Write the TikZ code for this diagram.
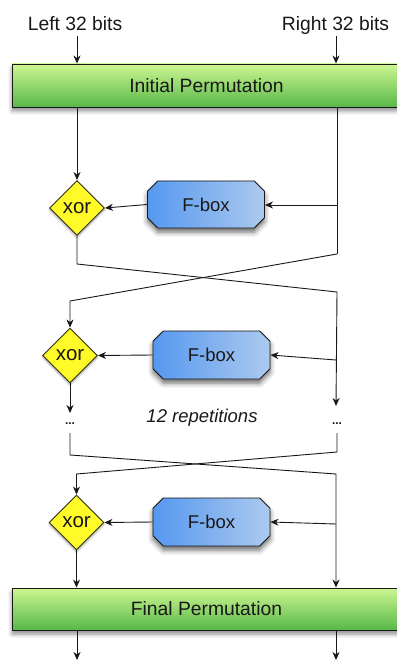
\documentclass[tikz,border=0pt]{standalone}
\usepackage{fontspec}
\setmainfont{Liberation Sans}
\usetikzlibrary{shapes.geometric,shapes.misc,shadows.blur,arrows.meta}

\definecolor{permtop}{RGB}{205,246,145}
\definecolor{permbot}{RGB}{88,184,74}
\definecolor{fleft}{RGB}{86,152,240}
\definecolor{fright}{RGB}{172,202,238}
\definecolor{xorfill}{RGB}{255,250,40}
\definecolor{ink}{RGB}{25,25,25}

\tikzset{
  txt/.style={font=\fontsize{19.3}{23}\selectfont, text=ink, inner sep=0pt},
  perm/.style={txt, draw=ink, line width=0.9pt, rectangle,
    top color=permtop, bottom color=permbot,
    minimum width=389pt, minimum height=43pt,
    blur shadow={shadow xshift=0pt, shadow yshift=-4pt, shadow blur radius=4pt, shadow opacity=45}},
  fbox/.style={txt, font=\fontsize{18.5}{22}\selectfont, draw=ink, line width=0.9pt, chamfered rectangle,
    chamfered rectangle xsep=7pt,
    left color=fleft, right color=fright,
    minimum width=117pt, minimum height=47pt,
    blur shadow={shadow xshift=0pt, shadow yshift=-4pt, shadow blur radius=5pt, shadow opacity=60}},
  xorbox/.style={txt, font=\fontsize{20.5}{24}\selectfont, draw=ink!80!olive, line width=0.9pt, diamond, aspect=1,
    fill=xorfill, minimum width=55pt, minimum height=55pt,
    blur shadow={shadow xshift=0pt, shadow yshift=-2pt, shadow blur radius=2pt, shadow opacity=35}},
  dots/.style={font=\fontsize{12}{14}\selectfont\bfseries, text=ink, inner sep=0pt, anchor=base},
  wire/.style={draw=ink, line width=0.9pt},
  arr/.style={wire, -{Stealth[length=8pt, width=7pt, inset=2.5pt]}},
}

\begin{document}
\begin{tikzpicture}[x=1pt, y=-1pt]
  \useasboundingbox (0,0) rectangle (396,660);

  % inputs
  \node[txt, anchor=base] (inL) at (75,31) {Left 32 bits};
  \node[txt, anchor=base] (inR) at (335.5,31) {Right 32 bits};
  \coordinate (inLa) at (77,36);
  \coordinate (inRa) at (336,36);

  % permutation blocks
  \node[perm] (ip) at (206.5,85.5) {Initial Permutation};
  \node[perm, minimum height=42pt] (fp) at (206.5,609) {Final Permutation};

  % rounds
  \node[xorbox] (x1) at (77,208) {xor};
  \node[fbox] (f1) at (206,204.5) {F-box};
  \node[xorbox] (x2) at (70,355.5) {xor};
  \node[fbox, minimum height=48pt] (f2) at (211.5,355) {F-box};
  \node[xorbox] (x3) at (76.5,522.5) {xor};
  \node[fbox, minimum height=48pt] (f3) at (211.5,522) {F-box};

  \node[txt, anchor=base, font=\fontsize{18.5}{22}\selectfont\itshape] (rep) at (202,422.5) {12 repetitions};
  \node[dots] (dL) at (70,424.5) {...};
  \node[dots] (dR) at (337,424.5) {...};

  % helper points on the wires
  \coordinate (r1) at (337,205);
  \coordinate (r1b) at (337,254);
  \coordinate (l1b) at (77,264);
  \coordinate (r2a) at (337,292);
  \coordinate (r2) at (336,360);
  \coordinate (r2e) at (336,406);
  \coordinate (l2e) at (70,413);
  \coordinate (l2b) at (70,301);
  \coordinate (dLb) at (70,433);
  \coordinate (dLc) at (70,455);
  \coordinate (dRb) at (337,433);
  \coordinate (dRc) at (337,452);
  \coordinate (l3a) at (76.5,474);
  \coordinate (r3a) at (336,474);
  \coordinate (r3) at (336,524);
  \coordinate (outL) at (77,660);
  \coordinate (outR) at (336,660);

  % inputs into the initial permutation
  \draw[arr] (inLa) -- (inLa |- ip.north);
  \draw[arr] (inRa) -- (inRa |- ip.north);

  % round 1
  \draw[arr] (x1.north |- ip.south) -- (x1.north);
  \draw[wire] (r1 |- ip.south) -- (r1b);
  \draw[arr] (r1) -- (f1.east |- r1);
  \draw[arr] (f1.west) -- (x1.east);
  \draw[arr] (r1b) -- (l2b) -- (x2.north);
  \draw[arr] (x1.south) -- (l1b) -- (r2a) -- (r2e);

  % round 2
  \draw[arr] (r2) -- (f2.east);
  \draw[arr] (f2.west) -- (x2.east);
  \draw[arr] (x2.south) -- (l2e);

  % crossing after the repetitions
  \draw[arr] (dLb) -- (dLc) -- (r3a) -- (r3a |- fp.north);
  \draw[arr] (dRb) -- (dRc) -- (l3a) -- (x3.north);

  % last round
  \draw[arr] (r3) -- (f3.east);
  \draw[arr] (f3.west) -- (x3.east);
  \draw[arr] (x3.south) -- (x3.south |- fp.north);

  % outputs
  \draw[arr] (outL |- fp.south) -- (outL);
  \draw[arr] (outR |- fp.south) -- (outR);
\end{tikzpicture}
\end{document}
